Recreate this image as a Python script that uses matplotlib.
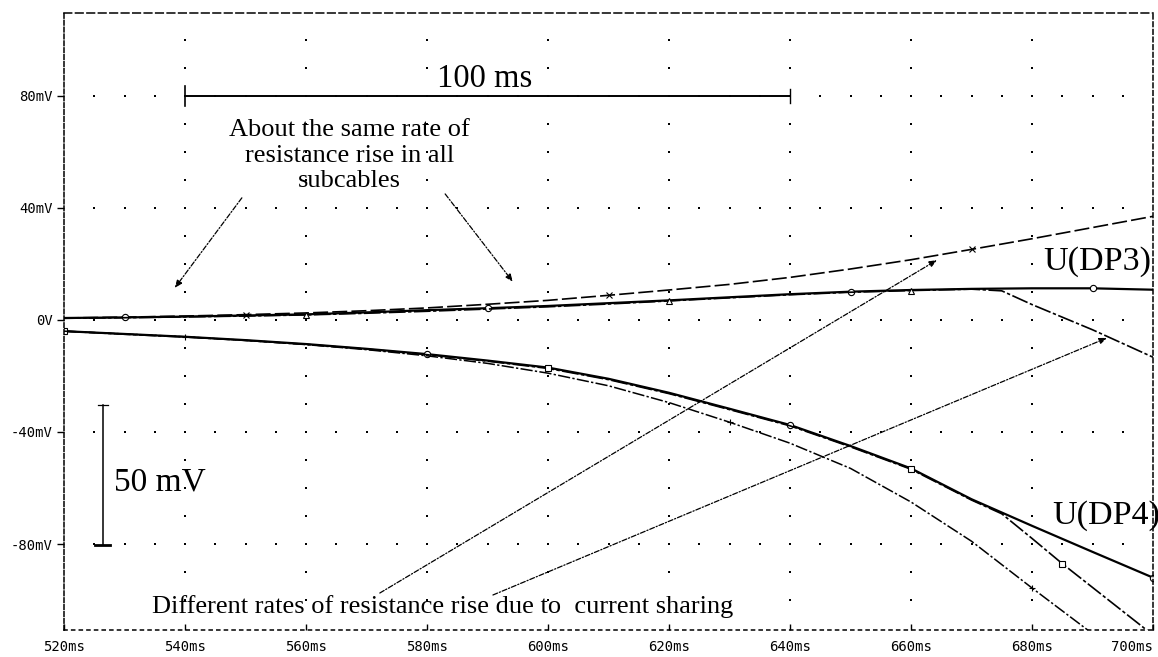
import numpy as np
import matplotlib
matplotlib.use("Agg")
import matplotlib.pyplot as plt

# ---- trace data (time in ms, voltage in mV) ----
t_ms = [520, 530, 540, 550, 560, 570, 580, 590, 600, 610,
        620, 630, 640, 650, 660, 670, 680, 690, 700]

# upper group: U(DP3)
dp3_x = [0.7, 1.0, 1.4, 1.9, 2.5, 3.3, 4.3, 5.6, 7.0, 8.8,
         10.7, 12.7, 15.2, 18.2, 21.5, 25.2, 29.0, 33.0, 37.0]
dp3_o = [0.7, 0.9, 1.2, 1.6, 2.0, 2.7, 3.5, 4.2, 5.0, 6.0,
         7.0, 8.1, 9.2, 10.1, 10.7, 11.1, 11.3, 11.3, 10.8]
dp3_tri_t = [520, 530, 540, 550, 560, 570, 580, 590, 600, 610,
             620, 630, 640, 650, 660, 670, 675, 680, 690, 700]
dp3_tri = [0.6, 0.8, 1.1, 1.4, 1.8, 2.4, 3.1, 3.9, 4.7, 5.7,
           6.8, 7.9, 9.0, 9.9, 10.5, 11.0, 10.4, 5.5, -3.5, -13.3]

# lower group: U(DP4)
dp4_o = [-4.0, -5.0, -6.0, -7.2, -8.6, -10.3, -12.2, -14.5, -17.0, -21.0,
         -26.0, -31.7, -37.5, -45.0, -53.0, -64.0, -73.5, -82.8, -92.0]
dp4_sq_t = [520, 530, 540, 550, 560, 570, 580, 590, 600, 610,
            620, 630, 640, 650, 660, 670, 675, 680, 685, 690, 695, 700]
dp4_sq = [-4.0, -5.1, -6.1, -7.3, -8.7, -10.4, -12.4, -14.7, -17.3, -21.3,
          -26.3, -32.0, -37.8, -45.3, -53.3, -64.3, -69.2, -78.0, -87.0,
          -95.5, -104.0, -112.5]
dp4_tri_t = [520, 530, 540, 550, 560, 570, 580, 590, 600, 610,
             620, 630, 640, 650, 660, 670, 680, 690]
dp4_tri = [-4.0, -5.0, -6.0, -7.3, -8.8, -10.6, -12.8, -15.5, -19.0, -23.5,
           -29.5, -36.5, -44.0, -53.0, -65.0, -79.0, -95.7, -112.0]

x_ticks = [520, 540, 560, 580, 600, 620, 640, 660, 680, 700]
x_labels = ["520ms", "540ms", "560ms", "580ms", "600ms", "620ms",
            "640ms", "660ms", "680ms", "700ms"]
y_ticks = [80, 40, 0, -40, -80]
y_labels = ["80mV", "40mV", "0V", "-40mV", "-80mV"]

SERIF = "Liberation Serif"
MONO = "DejaVu Sans Mono"

fig = plt.figure(figsize=(11.58, 6.57), dpi=100)
ax = fig.add_axes([64 / 1158, 1 - 630 / 657, (1153 - 64) / 1158, (630 - 13) / 657])
ax.set_xlim(520, 700)
ax.set_ylim(-110.7, 109.6)

# dotted grid: dots along each major row and column
row_t = np.arange(525, 700, 5)
for v in y_ticks:
    ax.plot(row_t, np.full_like(row_t, v, dtype=float), ls="none", marker="s",
            ms=1.7, color="black", mew=0)
col_v = np.arange(-100, 101, 10)
for t in x_ticks[1:-1]:
    ax.plot(np.full_like(col_v, t, dtype=float), col_v, ls="none", marker="s",
            ms=1.7, color="black", mew=0)

lw = 1.2
mk = dict(ms=4.5, mfc="white", mec="black", mew=0.8)
ax.plot(t_ms, dp3_x, color="black", lw=lw, ls=(0, (9, 2.5)),
        marker="x", markevery=[3, 9, 15], **mk)
ax.plot(t_ms, dp3_o, color="black", lw=lw + 0.4, ls="-",
        marker="o", markevery=[1, 7, 13, 17], **mk)
ax.plot(dp3_tri_t, dp3_tri, color="black", lw=lw, ls=(0, (10, 1.5, 2, 1.5)),
        marker="^", markevery=[4, 10, 14], **mk)

ax.plot(t_ms, dp4_o, color="black", lw=lw + 0.4, ls="-",
        marker="o", markevery=[6, 12, 18], **mk)
ax.plot(dp4_sq_t, dp4_sq, color="black", lw=lw, ls=(0, (10, 1.5, 2, 1.5)),
        marker="s", markevery=[0, 8, 14, 18], **mk)
ax.plot(dp4_tri_t, dp4_tri, color="black", lw=lw - 0.1, ls=(0, (8, 1.5, 1.5, 1.5)),
        marker="+", markevery=[2, 11, 16], **mk)

# frame and ticks
for side, style in (("top", (0, (5, 2.5))), ("right", (0, (3, 2))),
                    ("left", (0, (3, 1.5))), ("bottom", (0, (2, 3)))):
    ax.spines[side].set_linestyle(style)
    ax.spines[side].set_linewidth(1.1)
ax.set_xticks(x_ticks)
ax.set_xticklabels(x_labels, family=MONO, fontsize=10)
ax.get_xticklabels()[-1].set_horizontalalignment("right")
ax.get_xticklabels()[0].set_horizontalalignment("center")
ax.set_yticks(y_ticks)
ax.set_yticklabels(y_labels, family=MONO, fontsize=10)
ax.tick_params(axis="y", direction="out", length=5, width=1, pad=3)
ax.tick_params(axis="x", direction="in", length=4, width=1, pad=7)

# 100 ms scale bar
ax.plot([540, 640], [79.8, 79.8], color="black", lw=1.4)
ax.plot([540, 540], [76.5, 83.5], color="black", lw=1.2)
ax.plot([640, 640], [77.5, 82.5], color="black", lw=1.0)
ax.text(589.5, 86.0, "100 ms", family=SERIF, fontsize=23.5, ha="center", va="center")

# 50 mV scale bar
ax.plot([526.4, 526.4], [-80.5, -30.5], color="black", lw=1.1)
ax.plot([525.6, 527.2], [-30.5, -30.5], color="black", lw=0.9)
ax.plot([525.2, 527.6], [-80.5, -80.5], color="black", lw=2.0)
ax.text(528.3, -58.0, "50 mV", family=SERIF, fontsize=24, ha="left", va="center")

ax.text(567.2, 58.7, "About the same rate of\nresistance rise in all\nsubcables",
        family=SERIF, fontsize=19, ha="center", va="center", linespacing=1.2)

ax.text(681.8, 20.8, "U(DP3)", family=SERIF, fontsize=24.5, ha="left", va="center")
ax.text(683.3, -69.8, "U(DP4)", family=SERIF, fontsize=24.5, ha="left", va="center")

ax.text(534.6, -104.5, "Different rates of resistance rise due to  current sharing",
        family=SERIF, fontsize=19, ha="left", va="baseline")

arrow = dict(arrowstyle="-|>,head_length=0.45,head_width=0.18", color="black",
             lw=0.9, ls=(0, (4, 1.5, 1, 1.5)), shrinkA=0, shrinkB=0)
for start, end in (((549.4, 43.6), (538.3, 11.4)),
                   ((583.0, 45.0), (594.2, 13.6)),
                   ((572.2, -97.5), (664.3, 21.4)),
                   ((590.9, -98.2), (692.4, -6.4))):
    ax.annotate("", xy=end, xytext=start, arrowprops=arrow)

fig.savefig("out.png", dpi=100, facecolor="white")
